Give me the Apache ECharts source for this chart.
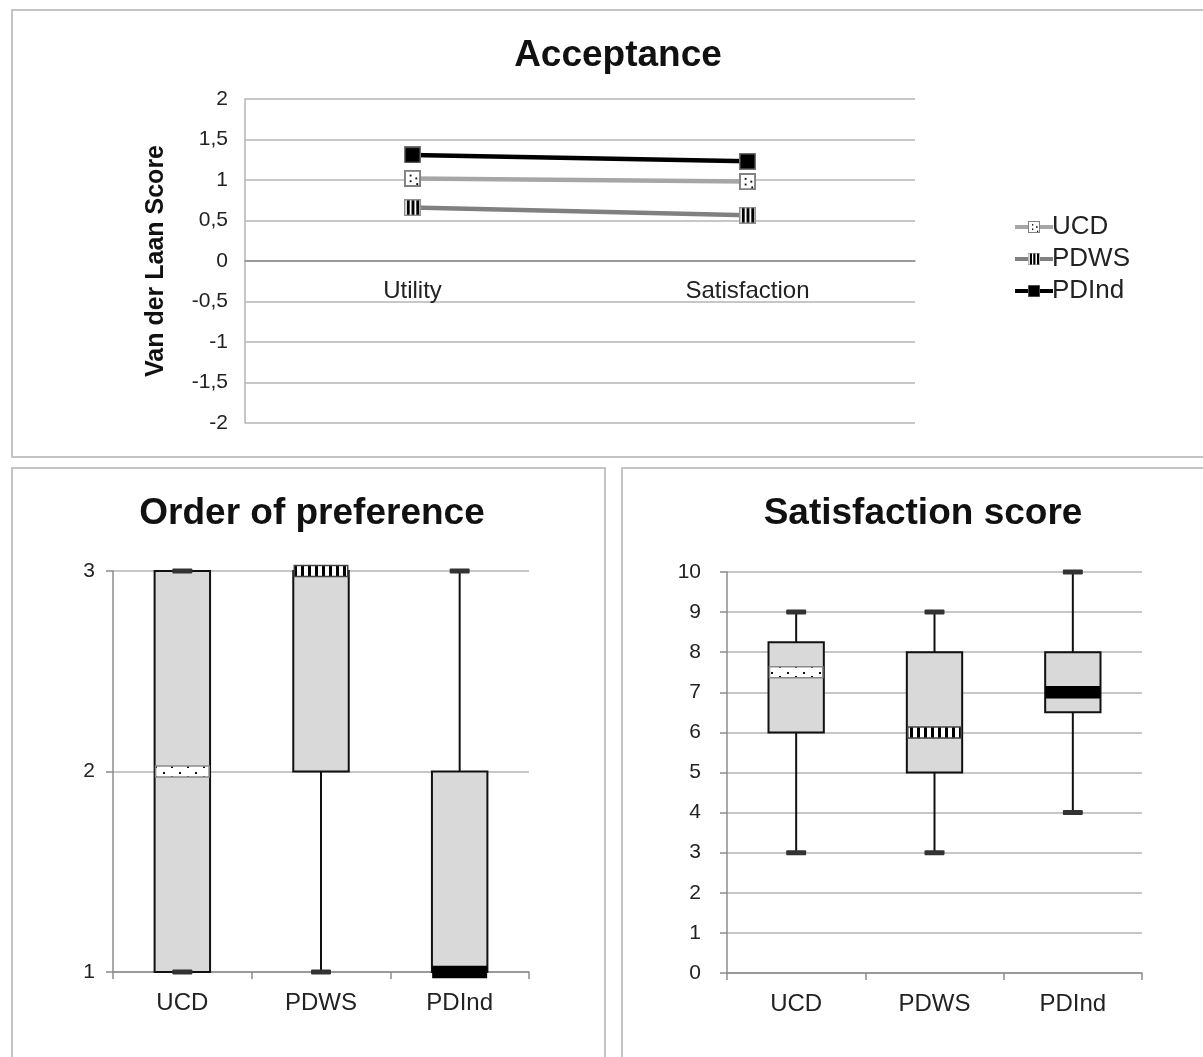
<!DOCTYPE html>
<html>
<head>
<meta charset="utf-8">
<script src="https://cdn.jsdelivr.net/npm/echarts@6/dist/echarts.min.js"></script>
<style>
html,body{margin:0;padding:0;background:#fff;}
#chart{width:1203px;height:1057px;}
</style>
</head>
<body>
<div id="chart"></div>
<script>
// ---------- DATA ----------
const accCategories = ['Utility', 'Satisfaction'];
const accUCD = [1.02, 0.98];
const accPDWS = [0.66, 0.565];
const accPDInd = [1.31, 1.23];
const accTicks = [-2, -1.5, -1, -0.5, 0, 0.5, 1, 1.5, 2];

const groups = ['UCD', 'PDWS', 'PDInd'];

const orderMin = [1, 1, 1];
const orderQ1 = [1, 2, 1];
const orderMedian = [2, 3, 1];
const orderQ3 = [3, 3, 2];
const orderMax = [3, 3, 3];

const satMin = [3, 3, 4];
const satQ1 = [6, 5, 6.5];
const satMedian = [7.5, 6, 7];
const satQ3 = [8.25, 8, 8];
const satMax = [9, 9, 10];

// ---------- STYLE HELPERS ----------
const FONT = "'Liberation Sans', Arial, sans-serif";

function mkCanvas(w, h, draw) {
  const c = document.createElement('canvas');
  c.width = w; c.height = h;
  const ctx = c.getContext('2d');
  draw(ctx, w, h);
  return c;
}
const dotsPattern = mkCanvas(16, 10, (ctx, w, h) => {
  ctx.fillStyle = '#fff'; ctx.fillRect(0, 0, w, h);
  ctx.fillStyle = '#111';
  ctx.fillRect(3, 2, 2, 2);
  ctx.fillRect(11, 6, 2, 2);
});
const stripePattern = mkCanvas(7, 4, (ctx, w, h) => {
  ctx.fillStyle = '#fff'; ctx.fillRect(0, 0, w, h);
  ctx.fillStyle = '#000'; ctx.fillRect(0, 0, 3, h);
});

function markerURL(kind) {
  const c = mkCanvas(18, 18, (ctx, w, h) => {
    if (kind === 'ucd') {
      ctx.fillStyle = '#fff'; ctx.fillRect(0, 0, w, h);
      ctx.fillStyle = '#111';
      ctx.fillRect(6, 5, 2, 2); ctx.fillRect(6, 11, 2, 2);
      ctx.fillRect(12, 8, 2, 2); ctx.fillRect(13, 14, 2, 2);
      ctx.strokeStyle = '#808080'; ctx.lineWidth = 2; ctx.strokeRect(1, 1, w - 2, h - 2);
    } else if (kind === 'pdws') {
      ctx.fillStyle = '#fff'; ctx.fillRect(0, 0, w, h);
      ctx.fillStyle = '#000';
      ctx.fillRect(3, 1, 3, h - 2); ctx.fillRect(8, 1, 3, h - 2); ctx.fillRect(13, 1, 3, h - 2);
      ctx.strokeStyle = '#909090'; ctx.lineWidth = 1.5; ctx.strokeRect(0.75, 0.75, w - 1.5, h - 1.5);
    } else {
      ctx.fillStyle = '#000'; ctx.fillRect(0, 0, w, h);
      ctx.strokeStyle = '#777'; ctx.lineWidth = 1.5; ctx.strokeRect(0.75, 0.75, w - 1.5, h - 1.5);
    }
  });
  return 'image://' + c.toDataURL();
}

const medianStyles = {
  UCD: { fill: { image: dotsPattern, repeat: 'repeat' }, stroke: '#8a8a8a' },
  PDWS: { fill: { image: stripePattern, repeat: 'repeat' }, stroke: '#444' },
  PDInd: { fill: '#000', stroke: '#000' }
};

function boxData(mins, q1, med, q3, maxs) {
  return groups.map((g, i) => [i, mins[i], q1[i], med[i], q3[i], maxs[i]]);
}

function boxRender(params, api) {
  const idx = api.value(0);
  const name = groups[idx];
  const pMin = api.coord([idx, api.value(1)]);
  const pQ1 = api.coord([idx, api.value(2)]);
  const pMed = api.coord([idx, api.value(3)]);
  const pQ3 = api.coord([idx, api.value(4)]);
  const pMax = api.coord([idx, api.value(5)]);
  const bw = api.size([1, 0])[0] * 0.4;
  const cx = pMed[0];
  const lineStyle = { stroke: '#111', lineWidth: 2 };
  const capW = 20, capH = 5, medH = 11;
  const ms = medianStyles[name];
  const children = [];
  children.push({ type: 'line', shape: { x1: cx, y1: pMin[1], x2: cx, y2: pQ1[1] }, style: lineStyle });
  children.push({ type: 'line', shape: { x1: cx, y1: pQ3[1], x2: cx, y2: pMax[1] }, style: lineStyle });
  children.push({
    type: 'rect',
    shape: { x: cx - bw / 2, y: pQ3[1], width: bw, height: pQ1[1] - pQ3[1] },
    style: { fill: '#d9d9d9', stroke: '#111', lineWidth: 2 }
  });
  children.push({ type: 'rect', shape: { x: cx - capW / 2, y: pMin[1] - capH / 2, width: capW, height: capH, r: 1 }, style: { fill: '#333' } });
  children.push({ type: 'rect', shape: { x: cx - capW / 2, y: pMax[1] - capH / 2, width: capW, height: capH, r: 1 }, style: { fill: '#333' } });
  children.push({
    type: 'rect',
    shape: { x: cx - bw / 2 + 1, y: pMed[1] - medH / 2, width: bw - 2, height: medH },
    style: { fill: ms.fill, stroke: ms.stroke, lineWidth: 1.5 }
  });
  return { type: 'group', children: children };
}

const gridLine = { show: true, lineStyle: { color: '#b4b4b4', width: 1.5 } };
const axisLineGray = { show: true, onZero: false, lineStyle: { color: '#8c8c8c', width: 1.5 } };
const tickStyle = { fontFamily: FONT, fontSize: 21, color: '#222' };
const catStyle = { fontFamily: FONT, fontSize: 24, color: '#222' };
const titleStyle = { fontFamily: FONT, fontSize: 37, fontWeight: 'bold', color: '#111' };

const chart = echarts.init(document.getElementById('chart'), null, { renderer: 'canvas' });

const option = {
  backgroundColor: '#fff',
  animation: false,
  graphic: [
    { type: 'rect', shape: { x: 12, y: 10, width: 1210, height: 447 }, style: { fill: 'none', stroke: '#c4c4c4', lineWidth: 2 }, z: -1 },
    { type: 'rect', shape: { x: 12, y: 468, width: 593, height: 620 }, style: { fill: 'none', stroke: '#c4c4c4', lineWidth: 2 }, z: -1 },
    { type: 'rect', shape: { x: 622, y: 468, width: 600, height: 620 }, style: { fill: 'none', stroke: '#c4c4c4', lineWidth: 2 }, z: -1 }
  ],
  title: [
    { text: 'Acceptance', left: 613, top: 32, textAlign: 'center', textStyle: titleStyle },
    { text: 'Order of preference', left: 307, top: 490, textAlign: 'center', textStyle: titleStyle },
    { text: 'Satisfaction score', left: 918, top: 490, textAlign: 'center', textStyle: titleStyle }
  ],
  legend: {
    data: ['UCD', 'PDWS', 'PDInd'],
    orient: 'vertical',
    left: 1008,
    top: 209,
    itemWidth: 38,
    itemHeight: 16,
    itemGap: 6,
    lineStyle: { width: 4 },
    textStyle: { fontFamily: FONT, fontSize: 26, color: '#222', padding: [0, 0, 0, -6] }
  },
  grid: [
    { left: 245, right: 288, top: 99, bottom: 634 },
    { left: 113, right: 674, top: 571, bottom: 85 },
    { left: 727, right: 61, top: 572, bottom: 84 }
  ],
  xAxis: [
    {
      gridIndex: 0, type: 'category', data: accCategories, boundaryGap: true,
      offset: -162,
      axisLine: { show: true, onZero: false, lineStyle: { color: '#8c8c8c', width: 1.5 } },
      axisTick: { show: false },
      axisLabel: Object.assign({ margin: 18 }, catStyle)
    },
    {
      gridIndex: 1, type: 'category', data: groups, boundaryGap: true,
      axisLine: axisLineGray,
      axisTick: { show: true, length: 7, lineStyle: { color: '#8c8c8c', width: 1.5 } },
      axisLabel: Object.assign({ margin: 19 }, catStyle)
    },
    {
      gridIndex: 2, type: 'category', data: groups, boundaryGap: true,
      axisLine: axisLineGray,
      axisTick: { show: true, length: 7, lineStyle: { color: '#8c8c8c', width: 1.5 } },
      axisLabel: Object.assign({ margin: 19 }, catStyle)
    }
  ],
  yAxis: [
    {
      gridIndex: 0, type: 'value', min: accTicks[0], max: accTicks[accTicks.length - 1], interval: 0.5,
      name: 'Van der Laan Score', nameLocation: 'middle', nameGap: 76,
      nameTextStyle: { fontFamily: FONT, fontSize: 25, fontWeight: 'bold', color: '#111' },
      axisLine: { show: true, lineStyle: { color: '#b4b4b4', width: 1.5 } },
      axisTick: { show: false },
      splitLine: gridLine,
      axisLabel: Object.assign({ margin: 17, formatter: v => String(v).replace('.', ',') }, tickStyle)
    },
    {
      gridIndex: 1, type: 'value', min: 1, max: 3, interval: 1,
      axisLine: axisLineGray,
      axisTick: { show: true, length: 7, lineStyle: { color: '#8c8c8c', width: 1.5 } },
      splitLine: gridLine,
      axisLabel: Object.assign({ margin: 18 }, tickStyle)
    },
    {
      gridIndex: 2, type: 'value', min: 0, max: 10, interval: 1,
      axisLine: axisLineGray,
      axisTick: { show: true, length: 7, lineStyle: { color: '#8c8c8c', width: 1.5 } },
      splitLine: gridLine,
      axisLabel: Object.assign({ margin: 26 }, tickStyle)
    }
  ],
  series: [
    {
      name: 'UCD', type: 'line', xAxisIndex: 0, yAxisIndex: 0, data: accUCD,
      symbol: markerURL('ucd'), symbolSize: 17,
      lineStyle: { color: '#a6a6a6', width: 4.5 }, itemStyle: { color: '#a6a6a6' }, z: 3
    },
    {
      name: 'PDWS', type: 'line', xAxisIndex: 0, yAxisIndex: 0, data: accPDWS,
      symbol: markerURL('pdws'), symbolSize: 17,
      lineStyle: { color: '#808080', width: 4.5 }, itemStyle: { color: '#808080' }, z: 3
    },
    {
      name: 'PDInd', type: 'line', xAxisIndex: 0, yAxisIndex: 0, data: accPDInd,
      symbol: markerURL('pdind'), symbolSize: 17,
      lineStyle: { color: '#000', width: 4.5 }, itemStyle: { color: '#000' }, z: 4
    },
    {
      name: 'Order', type: 'custom', xAxisIndex: 1, yAxisIndex: 1,
      data: boxData(orderMin, orderQ1, orderMedian, orderQ3, orderMax),
      renderItem: boxRender, z: 5
    },
    {
      name: 'Satisfaction', type: 'custom', xAxisIndex: 2, yAxisIndex: 2,
      data: boxData(satMin, satQ1, satMedian, satQ3, satMax),
      renderItem: boxRender, z: 5
    }
  ]
};
chart.setOption(option);
</script>
</body>
</html>
